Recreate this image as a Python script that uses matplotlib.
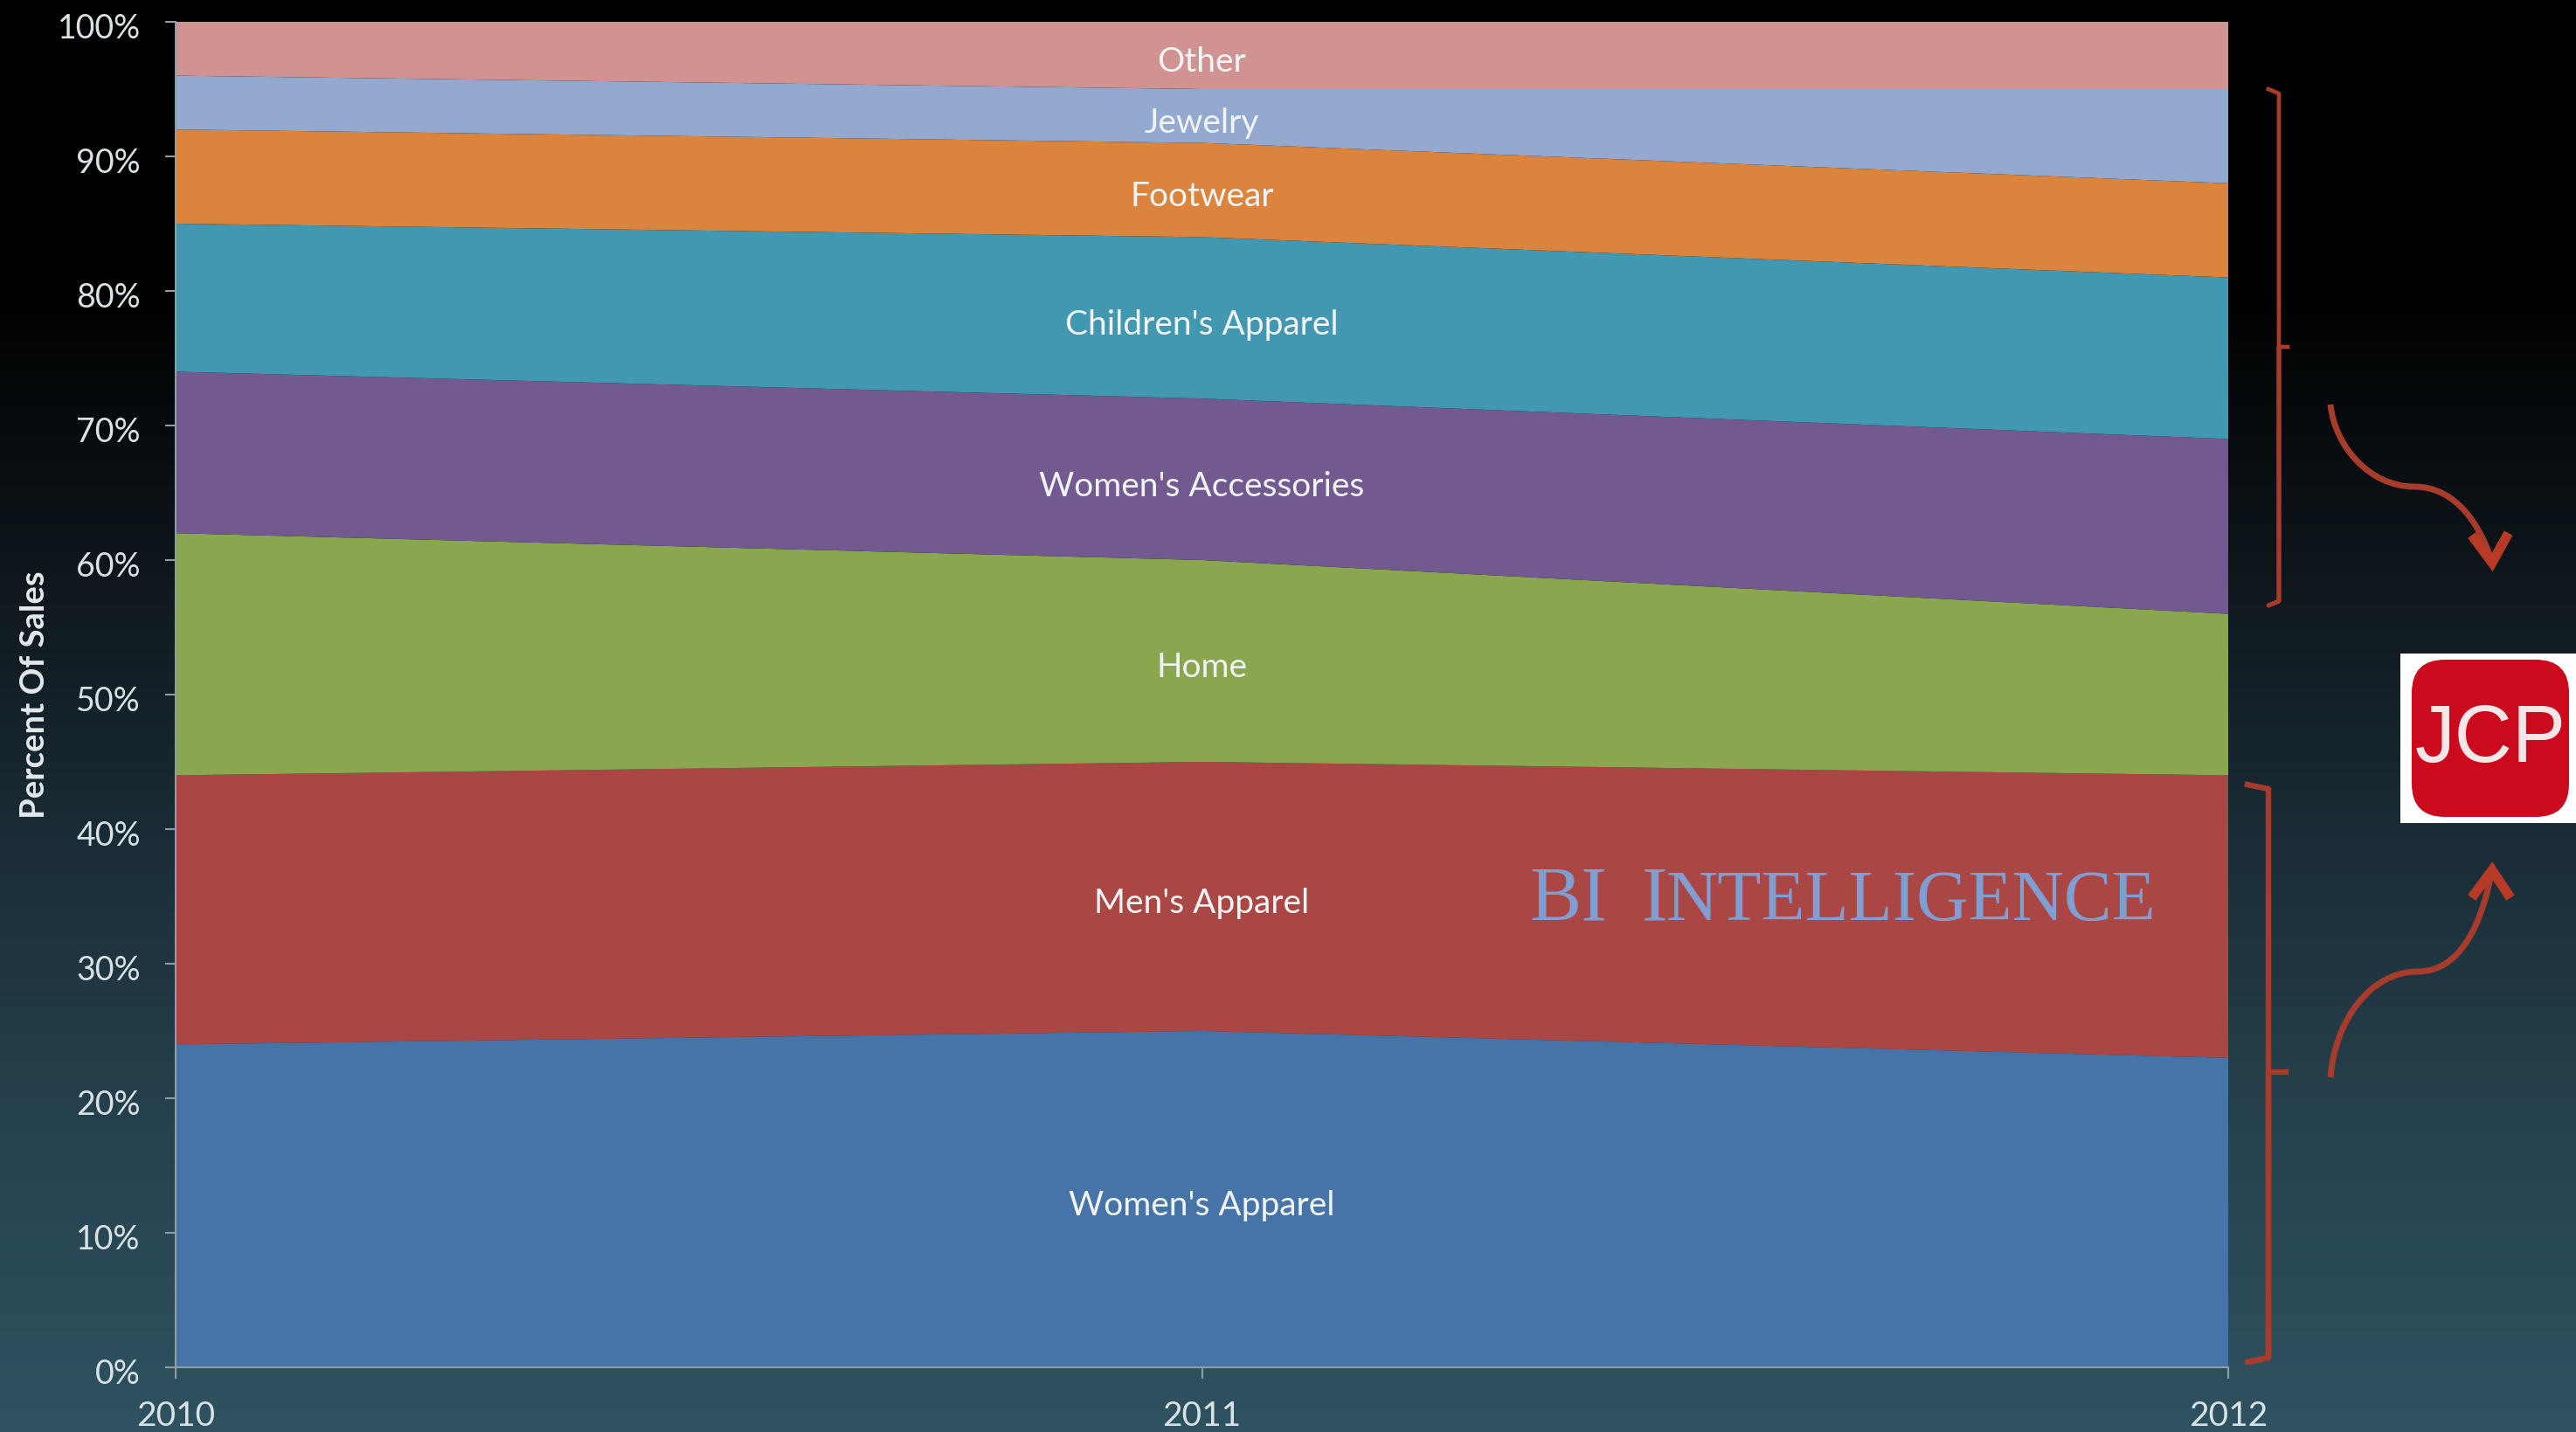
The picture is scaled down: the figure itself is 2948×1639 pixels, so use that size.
import numpy as np
import matplotlib
matplotlib.use("Agg")
import matplotlib.pyplot as plt
from matplotlib.colors import LinearSegmentedColormap
from matplotlib.patches import FancyBboxPatch, PathPatch, Rectangle
from matplotlib.path import Path
from matplotlib.transforms import ScaledTranslation

plt.rcParams['font.family'] = ['Lato', 'DejaVu Sans']

# chart data, percent of sales
years = [2010, 2011, 2012]
categories = ["Women's Apparel", "Men's Apparel", "Home", "Women's Accessories",
              "Children's Apparel", "Footwear", "Jewelry", "Other"]
womens_apparel = [24, 25, 23]
mens_apparel = [20, 20, 21]
home = [18, 15, 12]
womens_accessories = [12, 12, 13]
childrens_apparel = [11, 12, 12]
footwear = [7, 7, 7]
jewelry = [4, 4, 7]
other = [4, 5, 5]
y_ticks = [0, 10, 20, 30, 40, 50, 60, 70, 80, 90, 100]

series = [womens_apparel, mens_apparel, home, womens_accessories,
          childrens_apparel, footwear, jewelry, other]
colors = ['#4673a8', '#aa4644', '#8aa64f', '#72598f',
          '#4298b0', '#db843d', '#93a9cf', '#d19392']

W, H = 2948, 1640
fig = plt.figure(figsize=(W / 100, H / 100), dpi=100)

# background gradient, black at the top to dark teal at the bottom
bg = fig.add_axes([0, 0, 1, 1], zorder=0)
cmap = LinearSegmentedColormap.from_list('bg', [
    (0.0, '#000000'), (0.2, '#000000'), (0.42, '#10191f'),
    (0.62, '#1c303a'), (0.8, '#274350'), (1.0, '#2f5260')])
bg.imshow(np.linspace(0, 1, 512).reshape(-1, 1), cmap=cmap, aspect='auto', extent=[0, W, H, 0])
bg.set_xlim(0, W)
bg.set_ylim(H, 0)
bg.axis('off')

# the stacked area chart
ax = fig.add_axes([201 / W, 1 - 1566 / H, (2550 - 201) / W, 1540 / H], zorder=1)
ax.stackplot(years, series, colors=colors, linewidth=0)
ax.set_xlim(2010, 2012)
ax.set_ylim(0, 100)
ax.patch.set_alpha(0)

ax.set_xticks(years)
ax.set_xticklabels([str(y) for y in years])
ax.set_yticks(y_ticks)
ax.set_yticklabels([str(t) + '%' for t in y_ticks])
ax.tick_params(axis='both', colors='#8c9ea6', labelcolor='#d9e3e6', length=9, width=1.5)
ax.tick_params(axis='x', pad=18, labelsize=28)
ax.tick_params(axis='y', pad=20, labelsize=27)
# y labels sit a little below their ticks
shift = ScaledTranslation(0, -2.5 / 72, fig.dpi_scale_trans)
for lab in ax.get_yticklabels():
    lab.set_transform(lab.get_transform() + shift)
for s in ['top', 'right']:
    ax.spines[s].set_visible(False)
for s in ['left', 'bottom']:
    ax.spines[s].set_color('#8c9ea6')
    ax.spines[s].set_linewidth(1.5)

fig.text(40 / W, 1 - 795 / H, 'Percent Of Sales', rotation=90, ha='center', va='center',
         color='#e4eaec', fontsize=27.5, fontweight='bold')

# category names in the middle of each band at 2011
base = 0
for name, vals in zip(categories, series):
    ax.annotate(name, (2011, base + vals[1] / 2), xytext=(0, -5), textcoords='offset points',
                ha='center', va='center', color='#f0f4f4', fontsize=28)
    base += vals[1]

# everything else sits on an overlay in pixel coordinates
ov = fig.add_axes([0, 0, 1, 1], zorder=2)
ov.set_xlim(0, W)
ov.set_ylim(H, 0)
ov.axis('off')

RED = '#a83c2c'


def bracket(x, top, bottom, mid, serif, tick, lw):
    verts = [(x - serif, top), (x, top + 5), (x, bottom - 5), (x - serif, bottom),
             (x, bottom - 5), (x, mid), (x + tick, mid)]
    ov.plot([v[0] for v in verts], [v[1] for v in verts], color=RED, lw=lw,
            solid_joinstyle='round')


bracket(2608, 103, 694, 398, 12, 10, 3.4)
bracket(2596, 899, 1560, 1228, 24, 20, 4.6)


def arrow(start, c1, c2, mid, c3, c4, tip, left, right):
    codes = [Path.MOVETO, Path.CURVE4, Path.CURVE4, Path.CURVE4,
             Path.CURVE4, Path.CURVE4, Path.CURVE4]
    ov.add_patch(PathPatch(Path([start, c1, c2, mid, c3, c4, tip], codes),
                           fill=False, edgecolor=RED, lw=5, capstyle='butt'))
    ov.plot([left[0], tip[0], right[0]], [left[1], tip[1], right[1]], color='#b83a26', lw=8,
            solid_joinstyle='miter')


arrow((2667, 464), (2672, 512), (2712, 558), (2763, 558),
      (2812, 558), (2840, 605), (2852, 645), (2832, 618), (2868, 616))
arrow((2667, 1234), (2672, 1170), (2712, 1113), (2767, 1113),
      (2815, 1113), (2840, 1060), (2852, 997), (2832, 1024), (2870, 1024))

# JCP logo
ov.add_patch(Rectangle((2747, 749), 201, 194, facecolor='white', edgecolor='none'))
ov.add_patch(FancyBboxPatch((2785, 781), 130, 130, boxstyle='round,pad=25,rounding_size=38',
                            facecolor='#cc0a1e', edgecolor='none'))
ov.text(2850, 848, 'JCP', ha='center', va='center', color='#f7e6e8', fontsize=66,
        family=['Liberation Sans'])

# BI Intelligence watermark, small caps built from two sizes
fig.canvas.draw()
renderer = fig.canvas.get_renderer()
x = 1750
for piece, size, gap in [('BI', 64, 40), ('I', 64, -2), ('NTELLIGENCE', 59, 0)]:
    t = ov.text(x, 1053, piece, ha='left', va='baseline', color='#7f9fd2', fontsize=size,
                family=['Liberation Serif'])
    x = t.get_window_extent(renderer).x1 + gap

fig.savefig('out.png', dpi=100)
